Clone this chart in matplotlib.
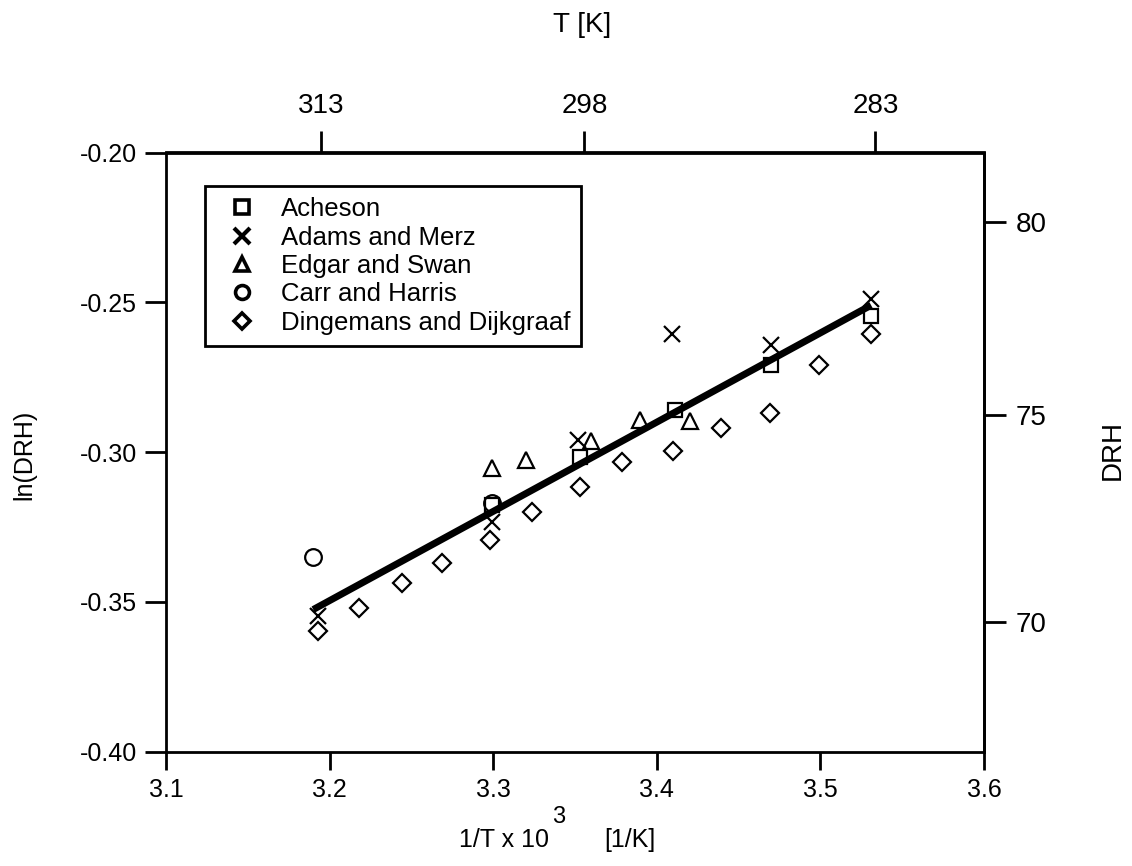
import matplotlib
matplotlib.use("Agg")
import numpy as np
import matplotlib.pyplot as plt
from matplotlib.lines import Line2D

plt.rcParams['font.family'] = ['Liberation Sans', 'DejaVu Sans']

# ---- data ----
acheson_x = [3.299, 3.353, 3.411, 3.470, 3.531]
acheson_y = [-0.3177, -0.3018, -0.2859, -0.2709, -0.2546]

adams_x = [3.193, 3.299, 3.352, 3.409, 3.470, 3.531]
adams_y = [-0.3549, -0.3234, -0.2961, -0.2605, -0.2643, -0.2490]

edgar_x = [3.299, 3.320, 3.360, 3.390, 3.420]
edgar_y = [-0.3054, -0.3026, -0.2964, -0.2893, -0.2898]

carr_x = [3.190, 3.299]
carr_y = [-0.3352, -0.3171]

ding_x = [3.193, 3.218, 3.244, 3.269, 3.298, 3.324, 3.353, 3.379,
          3.410, 3.439, 3.469, 3.499, 3.531]
ding_y = [-0.3599, -0.3521, -0.3437, -0.3369, -0.3294, -0.3199, -0.3118,
          -0.3034, -0.2995, -0.2921, -0.2869, -0.2708, -0.2606]

fit_x = [3.190, 3.531]
fit_y = [-0.3526, -0.2510]

x_ticks = [3.1, 3.2, 3.3, 3.4, 3.5, 3.6]
y_ticks = [-0.40, -0.35, -0.30, -0.25, -0.20]
top_ticks = [313, 298, 283]
right_ticks = [70, 75, 80]

W, H = 1132, 866
fig = plt.figure(figsize=(W / 100, H / 100), dpi=100)
AX_L, AX_R, AX_T, AX_B = 166, 984, 152.5, 751.5
ax = fig.add_axes([AX_L / W, 1 - AX_B / H, (AX_R - AX_L) / W, (AX_B - AX_T) / H])

ax.set_xlim(3.1, 3.6)
ax.set_ylim(-0.40, -0.20)

ms_kw = dict(linestyle='none', markerfacecolor='none', markeredgecolor='black',
             markeredgewidth=1.6)

ax.plot(fit_x, fit_y, color='black', linewidth=5.0, solid_capstyle='butt', zorder=3)
ax.plot(acheson_x, acheson_y, marker='s', markersize=10, **ms_kw, zorder=4)
ax.plot(adams_x, adams_y, marker='x', markersize=11, **ms_kw, zorder=4)
ax.plot(edgar_x, edgar_y, marker='^', markersize=11, **ms_kw, zorder=4)
ax.plot(carr_x, carr_y, marker='o', markersize=12, **ms_kw, zorder=4)
ax.plot(ding_x, ding_y, marker='D', markersize=9, **ms_kw, zorder=4)

ax.set_xticks(x_ticks)
ax.set_xticklabels([f"{v:.1f}" for v in x_ticks])
ax.set_yticks(y_ticks)
ax.set_yticklabels([f"{v:.2f}" for v in y_ticks])
for s in ax.spines.values():
    s.set_linewidth(2.0)
ax.tick_params(axis='x', direction='out', length=13, width=2.0,
               labelsize=18, pad=6)
ax.tick_params(axis='y', direction='out', length=15, width=2.0,
               labelsize=18, pad=6)

# top axis: temperature
top = ax.secondary_xaxis('top', functions=(lambda v: 1000.0 / np.maximum(v, 1e-9),
                                          lambda t: 1000.0 / np.maximum(t, 1e-9)))
top.set_xticks(top_ticks)
top.set_xticklabels([str(t) for t in top_ticks])
top.tick_params(direction='out', length=15, width=2.0, labelsize=20, pad=9)
top.spines['top'].set_linewidth(2.0)

# right axis: DRH
right = ax.secondary_yaxis('right', functions=(
    lambda y: 100.0 * np.exp(y),
    lambda d: np.log(np.maximum(d, 1e-9) / 100.0)))
right.set_yticks(right_ticks)
right.set_yticklabels([str(t) for t in right_ticks])
right.tick_params(direction='out', length=16, width=2.0, labelsize=20, pad=7)
right.spines['right'].set_linewidth(2.0)

# labels
fig.text(24 / W, 1 - 455 / H, "ln(DRH)", rotation=90, ha='center', va='center',
         fontsize=18)
fig.text(1113 / W, 1 - 450 / H, "DRH", rotation=90, ha='center', va='center',
         fontsize=20)
fig.text(582 / W, 1 - 25 / H, "T [K]", ha='center', va='center', fontsize=20)
fig.text(459 / W, 1 - 840 / H, "1/T x 10", ha='left', va='center', fontsize=18)
fig.text(559 / W, 1 - 817 / H, "3", ha='center', va='center', fontsize=17)
fig.text(630 / W, 1 - 840 / H, "[1/K]", ha='center', va='center', fontsize=18)

# legend
lk = {**ms_kw, 'markeredgewidth': 2.6}
handles = [
    Line2D([], [], marker='s', markersize=10, **lk),
    Line2D([], [], marker='x', markersize=11, **{**lk, 'markeredgewidth': 3.0}),
    Line2D([], [], marker='^', markersize=10, **lk),
    Line2D([], [], marker='o', markersize=10, **lk),
    Line2D([], [], marker='D', markersize=8, **lk),
]
labels = ["Acheson", "Adams and Merz", "Edgar and Swan", "Carr and Harris",
          "Dingemans and Dijkgraaf"]
leg = ax.legend(handles, labels, loc='upper left',
                bbox_to_anchor=((205 - AX_L) / (AX_R - AX_L),
                                1 - (186 - AX_T) / (AX_B - AX_T)),
                fontsize=18.5, frameon=True, fancybox=False, framealpha=1,
                edgecolor='black', handlelength=2.0, handletextpad=0.5,
                labelspacing=0.17, borderpad=0.44, borderaxespad=0)
leg.get_frame().set_linewidth(2.0)

fig.savefig("out.png", dpi=100)
